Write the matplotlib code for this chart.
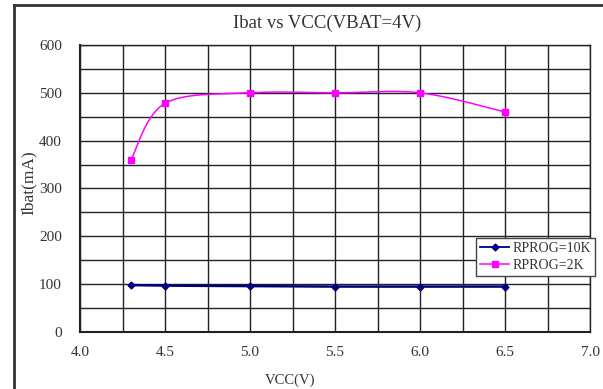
import numpy as np
import matplotlib
matplotlib.use("Agg")
import matplotlib.pyplot as plt
from matplotlib.lines import Line2D

vcc = [4.3, 4.5, 5.0, 5.5, 6.0, 6.5]
ibat_10k = [98, 97, 96, 95, 95, 95]
ibat_2k = [360, 478, 500, 500, 500, 460]
x_ticks = [4.0, 4.5, 5.0, 5.5, 6.0, 6.5, 7.0]
x_ticklabels = ["4.0", "4.5", "5.0", "5.5", "6.0", "6.5", "7.0"]
y_ticks = [0, 100, 200, 300, 400, 500, 600]

FONT = "Liberation Serif"
TEXT = "#333333"


def smooth(ax, xs, ys, n=40, tension=0.5):
    """Cardinal-spline smoothing computed in display space."""
    pts = ax.transData.transform(np.column_stack([xs, ys]))
    out = [pts[0]]
    m = len(pts)
    for i in range(m - 1):
        p0 = pts[max(i - 1, 0)]
        p1 = pts[i]
        p2 = pts[i + 1]
        p3 = pts[min(i + 2, m - 1)]
        c1 = p1 + (p2 - p0) * tension / 3
        c2 = p2 - (p3 - p1) * tension / 3
        t = np.linspace(0, 1, n)[1:, None]
        seg = ((1 - t) ** 3) * p1 + 3 * ((1 - t) ** 2) * t * c1 + 3 * (1 - t) * t ** 2 * c2 + t ** 3 * p2
        out.extend(seg)
    out = np.array(out)
    data = ax.transData.inverted().transform(out)
    return data[:, 0], data[:, 1]


fig = plt.figure(figsize=(6.03, 3.89), dpi=100)
ax = fig.add_axes([80 / 603, 1 - 332 / 389, 510 / 603, 287 / 389])
ax.set_xlim(4.0, 7.0)
ax.set_ylim(0, 600)

# outer chart border (left and top edges visible)
fig.add_artist(Line2D([14 / 603, 14 / 603], [0, 1 - 5 / 389], transform=fig.transFigure,
                      color="#333333", lw=2))
fig.add_artist(Line2D([14 / 603, 1], [1 - 5 / 389, 1 - 5 / 389], transform=fig.transFigure,
                      color="#333333", lw=2))

ax.set_xticks(np.arange(4.0, 7.01, 0.25), minor=True)
ax.set_yticks(np.arange(0, 601, 50), minor=True)
ax.set_xticks(x_ticks)
ax.set_xticklabels(x_ticklabels)
ax.set_yticks(y_ticks)
ax.grid(True, which="both", color="#222222", lw=1.0)
ax.tick_params(which="both", length=0, labelsize=11, colors=TEXT)
ax.tick_params(axis="y", pad=13)
ax.tick_params(axis="x", pad=10)
for lab in ax.get_xticklabels() + ax.get_yticklabels():
    lab.set_fontfamily(FONT)
for s in ax.spines.values():
    s.set_color("#222222")
    s.set_linewidth(1.0)
ax.spines["left"].set_linewidth(1.5)
ax.spines["bottom"].set_linewidth(1.5)

fig.canvas.draw()
sx, sy = smooth(ax, vcc, ibat_10k)
ax.plot(sx, sy, color="#000080", lw=1.8, zorder=3)
ax.plot(vcc, ibat_10k, ls="none", marker="D", ms=3.5, color="#000080", zorder=4)
sx, sy = smooth(ax, vcc, ibat_2k)
ax.plot(sx, sy, color="#FF00FF", lw=1.1, zorder=3)
ax.plot(vcc, ibat_2k, ls="none", marker="s", ms=5, color="#FF00FF", zorder=4)

handles = [
    Line2D([], [], color="#000080", lw=1.3, marker="D", ms=3.5),
    Line2D([], [], color="#FF00FF", lw=1.1, marker="s", ms=5),
]
leg = ax.legend(handles, ["RPROG=10K", "RPROG=2K"], loc="upper left",
                bbox_to_anchor=((476 - 80) / 510, 1 - (238 - 45) / 287),
                prop={"family": FONT, "size": 10}, frameon=True, fancybox=False,
                edgecolor="#444444", framealpha=1, borderpad=0.3, handlelength=2.1,
                handletextpad=0.2, labelspacing=0.25, borderaxespad=0)
leg.get_frame().set_linewidth(1.0)
for t in leg.get_texts():
    t.set_color(TEXT)

fig.text(327 / 603, 1 - 23 / 389, "Ibat vs VCC(VBAT=4V)", ha="center", va="center",
         fontfamily=FONT, fontsize=13.5, color=TEXT)
fig.text(290 / 603, 1 - 380 / 389, "VCC(V)", ha="center", va="center",
         fontfamily=FONT, fontsize=10.5, color=TEXT)
fig.text(29 / 603, 1 - 183 / 389, "Ibat(mA)", ha="center", va="center", rotation=90,
         fontfamily=FONT, fontsize=12.5, color=TEXT)

fig.savefig("out.png", dpi=100)
